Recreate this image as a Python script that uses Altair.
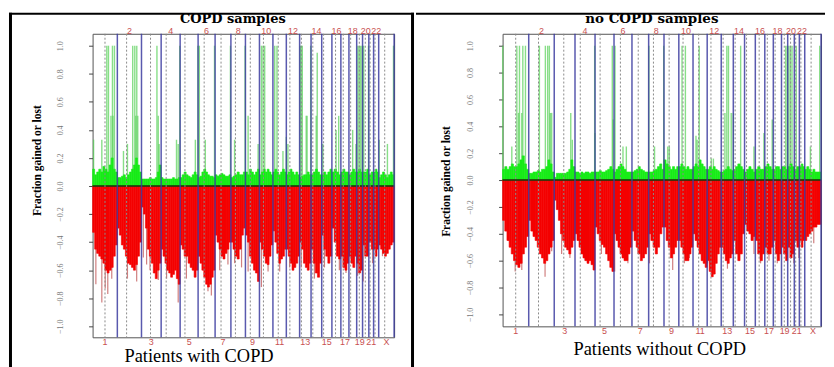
import altair as alt
import pandas as pd

# ---------------- genome layout (Mb) ----------------
CHROMS = ["1", "2", "3", "4", "5", "6", "7", "8", "9", "10", "11", "12",
          "13", "14", "15", "16", "17", "18", "19", "20", "21", "22", "X"]
CHR_LEN = [249.25, 243.20, 198.02, 191.15, 180.92, 171.12, 159.14, 146.36,
           141.21, 135.53, 135.01, 133.85, 115.17, 107.35, 102.53, 90.35,
           81.20, 78.08, 59.13, 63.03, 48.13, 51.30, 155.27]
CENTRO = [125.0, 93.3, 91.0, 50.4, 48.4, 61.0, 59.9, 45.6, 49.0, 40.2, 53.7,
          35.8, 17.9, 17.6, 19.0, 36.6, 24.0, 17.2, 26.5, 27.5, 13.2, 14.7, 60.6]
Y_TICKS = [1.0, 0.8, 0.6, 0.4, 0.2, 0.0, -0.2, -0.4, -0.6, -0.8, -1.0]

# ---------------- COPD samples ----------------
COPD_LOSS = [
    [-0.33, -0.45, -0.48, -0.5, -0.52, -0.55, -0.6, -0.62, -0.6, -0.58, -0.5, -0.42],
    [-0.3, -0.35, -0.42, -0.45, -0.5, -0.55, -0.56, -0.58, -0.6, -0.56, -0.5, -0.4],
    [-0.15, -0.2, -0.3, -0.45, -0.5, -0.55, -0.62, -0.66, -0.6, -0.55],
    [-0.45, -0.5, -0.55, -0.6, -0.62, -0.65, -0.63, -0.6, -0.66, -0.7],
    [-0.42, -0.45, -0.5, -0.5, -0.55, -0.58, -0.6, -0.65, -0.6],
    [-0.5, -0.55, -0.6, -0.65, -0.7, -0.72, -0.7, -0.65, -0.6],
    [-0.35, -0.4, -0.45, -0.5, -0.52, -0.48, -0.45, -0.4],
    [-0.4, -0.45, -0.5, -0.52, -0.45, -0.35, -0.3],
    [-0.35, -0.4, -0.5, -0.55, -0.6, -0.62, -0.68],
    [-0.4, -0.45, -0.5, -0.55, -0.56, -0.5, -0.42],
    [-0.32, -0.4, -0.48, -0.55, -0.52, -0.5, -0.45],
    [-0.45, -0.5, -0.55, -0.6, -0.58, -0.55, -0.5],
    [-0.4, -0.45, -0.55, -0.58, -0.6, -0.55],
    [-0.45, -0.55, -0.62, -0.65, -0.55],
    [-0.35, -0.45, -0.5, -0.55, -0.5],
    [-0.3, -0.4, -0.5, -0.52],
    [-0.5, -0.58, -0.6, -0.55],
    [-0.5, -0.55, -0.58, -0.5],
    [-0.55, -0.62, -0.6],
    [-0.42, -0.5, -0.5],
    [-0.4, -0.45],
    [-0.45, -0.5, -0.45],
    [-0.42, -0.45, -0.48, -0.5, -0.48, -0.45, -0.42, -0.4],
]
COPD_GAIN = [
    [0.12, 0.08, 0.1, 0.12, 0.1, 0.14, 0.12, 0.1, 0.15, 0.2, 0.12, 0.1],
    [0.06, 0.06, 0.07, 0.08, 0.06, 0.08, 0.1, 0.12, 0.15, 0.2, 0.15, 0.1],
    [0.05, 0.05, 0.05, 0.05, 0.06, 0.05, 0.05, 0.06, 0.1, 0.15],
    [0.06, 0.05, 0.05, 0.05, 0.05, 0.05, 0.06, 0.05, 0.05, 0.06],
    [0.06, 0.08, 0.1, 0.08, 0.07, 0.06, 0.08, 0.1, 0.08],
    [0.06, 0.07, 0.1, 0.12, 0.1, 0.08, 0.07, 0.07, 0.06],
    [0.08, 0.07, 0.08, 0.09, 0.08, 0.07, 0.07, 0.08],
    [0.06, 0.07, 0.08, 0.1, 0.08, 0.08, 0.1],
    [0.1, 0.08, 0.12, 0.1, 0.08, 0.1, 0.12],
    [0.08, 0.1, 0.12, 0.1, 0.12, 0.1, 0.08],
    [0.1, 0.12, 0.1, 0.08, 0.1, 0.12, 0.1],
    [0.08, 0.1, 0.12, 0.1, 0.08, 0.1, 0.08],
    [0.06, 0.07, 0.08, 0.08, 0.1, 0.08],
    [0.08, 0.1, 0.12, 0.1, 0.08],
    [0.08, 0.1, 0.08, 0.1, 0.12],
    [0.1, 0.12, 0.1, 0.08],
    [0.1, 0.12, 0.1, 0.1],
    [0.08, 0.1, 0.12, 0.1],
    [0.1, 0.12, 0.1],
    [0.1, 0.1, 0.12],
    [0.08, 0.1],
    [0.1, 0.12, 0.1],
    [0.06, 0.08, 0.1, 0.08, 0.06, 0.08, 0.1, 0.08],
]
COPD_GAIN_SPIKE_POS = [143, 160, 200, 220, 404, 425, 445, 648, 878, 1060, 1075, 1228,
                       1388, 1536, 1700, 1716, 1733, 1834, 1857, 2090, 2100, 2112,
                       2196, 2262, 2672, 2685, 2700, 2715, 2730, 2778, 3030,
                       10, 93, 185, 205, 311, 351, 435, 455, 661, 670, 845, 862,
                       1035, 1135, 1430, 1566, 1667, 1917, 1951, 1967, 2151, 2160,
                       2252, 2318, 2452, 2478, 2619, 2652, 2886, 2969]
COPD_GAIN_SPIKE_H = [1.0, 1.0, 1.0, 1.0, 1.0, 1.0, 1.0, 1.0, 1.0, 1.0, 1.0, 1.0,
                     1.0, 1.0, 1.0, 1.0, 1.0, 1.0, 1.0, 1.0, 1.0, 1.0,
                     1.0, 0.95, 1.0, 1.0, 1.0, 1.0, 1.0, 1.0, 1.0,
                     0.33, 0.33, 0.5, 0.5, 0.25, 0.3, 0.5, 0.5, 0.5, 0.3, 0.33, 0.3,
                     0.33, 0.33, 0.33, 0.5, 0.3, 0.25, 0.35, 0.3, 0.5, 0.5,
                     0.5, 0.3, 0.4, 0.5, 0.4, 0.3, 0.33, 0.3]
COPD_LOSS_SPIKE_POS = [33, 93, 127, 153, 193, 351, 444, 511, 544, 578, 661, 745, 862,
                       945, 1022, 1162, 1196, 1280, 1363, 1430, 1500, 1566, 1633,
                       1700, 1767, 1884, 1984, 2101, 2234, 2335, 2485, 2552, 2669,
                       2725, 2819, 2919]
COPD_LOSS_SPIKE_H = [-0.7, -0.83, -0.73, -0.77, -0.66, -0.66, -0.68, -0.51, -0.56, -0.6,
                     -0.67, -0.66, -0.83, -0.66, -0.6, -0.75, -0.78, -0.6, -0.56, -0.55,
                     -0.58, -0.61, -0.55, -0.72, -0.61, -0.61, -0.58, -0.58, -0.66,
                     -0.58, -0.6, -0.62, -0.64, -0.68, -0.55, -0.5]

# ---------------- no COPD samples ----------------
NOCOPD_LOSS = [
    [-0.3, -0.38, -0.45, -0.5, -0.55, -0.6, -0.63, -0.65, -0.62, -0.55, -0.5, -0.42],
    [-0.3, -0.38, -0.42, -0.45, -0.5, -0.55, -0.58, -0.62, -0.6, -0.55, -0.5, -0.45],
    [-0.15, -0.22, -0.3, -0.4, -0.45, -0.5, -0.52, -0.55, -0.5, -0.45],
    [-0.4, -0.45, -0.5, -0.55, -0.58, -0.6, -0.62, -0.6, -0.63, -0.67],
    [-0.35, -0.4, -0.45, -0.48, -0.5, -0.55, -0.6, -0.65, -0.68],
    [-0.4, -0.45, -0.5, -0.55, -0.58, -0.6, -0.6, -0.55, -0.5],
    [-0.38, -0.45, -0.5, -0.55, -0.6, -0.58, -0.55, -0.5],
    [-0.4, -0.45, -0.5, -0.55, -0.5, -0.4, -0.35],
    [-0.35, -0.45, -0.5, -0.58, -0.55, -0.5, -0.45],
    [-0.45, -0.5, -0.55, -0.6, -0.6, -0.55, -0.5],
    [-0.4, -0.45, -0.5, -0.55, -0.6, -0.62, -0.65],
    [-0.6, -0.68, -0.72, -0.7, -0.62, -0.55, -0.5],
    [-0.5, -0.55, -0.6, -0.62, -0.58, -0.55],
    [-0.45, -0.55, -0.6, -0.55, -0.4],
    [-0.33, -0.38, -0.4, -0.45, -0.42],
    [-0.45, -0.55, -0.6, -0.55],
    [-0.5, -0.55, -0.55, -0.5],
    [-0.45, -0.55, -0.6, -0.55],
    [-0.5, -0.55, -0.6],
    [-0.5, -0.58, -0.55],
    [-0.45, -0.5],
    [-0.45, -0.5, -0.45],
    [-0.45, -0.42, -0.4, -0.38, -0.35, -0.35, -0.33, -0.33],
]
NOCOPD_GAIN = [
    [0.08, 0.1, 0.08, 0.1, 0.12, 0.1, 0.1, 0.12, 0.15, 0.18, 0.12, 0.08],
    [0.05, 0.05, 0.06, 0.06, 0.07, 0.06, 0.08, 0.08, 0.1, 0.15, 0.12, 0.06],
    [0.02, 0.05, 0.05, 0.05, 0.05, 0.05, 0.06, 0.08, 0.15, 0.1],
    [0.06, 0.06, 0.05, 0.06, 0.05, 0.06, 0.06, 0.05, 0.06, 0.06],
    [0.06, 0.06, 0.07, 0.06, 0.06, 0.07, 0.08, 0.1, 0.08],
    [0.06, 0.08, 0.1, 0.12, 0.1, 0.08, 0.06, 0.06, 0.06],
    [0.06, 0.07, 0.08, 0.1, 0.08, 0.07, 0.06, 0.06],
    [0.06, 0.06, 0.07, 0.08, 0.1, 0.12, 0.08],
    [0.15, 0.12, 0.1, 0.08, 0.1, 0.08, 0.1],
    [0.1, 0.12, 0.1, 0.08, 0.1, 0.08, 0.08],
    [0.1, 0.12, 0.1, 0.15, 0.12, 0.1, 0.08],
    [0.08, 0.1, 0.08, 0.1, 0.08, 0.07, 0.06],
    [0.06, 0.07, 0.08, 0.1, 0.08, 0.07],
    [0.08, 0.1, 0.12, 0.1, 0.08],
    [0.06, 0.08, 0.1, 0.08, 0.06],
    [0.08, 0.1, 0.08, 0.08],
    [0.1, 0.12, 0.1, 0.08],
    [0.08, 0.1, 0.1, 0.08],
    [0.1, 0.1, 0.08],
    [0.1, 0.12, 0.1],
    [0.08, 0.1],
    [0.1, 0.12, 0.1],
    [0.08, 0.1, 0.08, 0.06, 0.08, 0.06, 0.06, 0.06],
]
NOCOPD_GAIN_SPIKE_POS = [2, 136, 161, 193, 218, 351, 408, 430, 446, 878, 1046, 1072,
                         1395, 1536, 1711, 1743, 1875, 2138, 2154, 2270, 2700, 2715,
                         2730, 2745, 2760, 2800, 3024,
                         88, 152, 183, 455, 468, 650, 665, 880, 1053, 1148, 1180, 1449,
                         1575, 1590, 1844, 1855, 1990, 2010, 2120, 2180, 2200, 2397,
                         2492, 2571, 2935]
NOCOPD_GAIN_SPIKE_H = [1.0, 1.0, 1.0, 1.0, 1.0, 1.0, 1.0, 1.0, 1.0, 1.0, 1.0, 1.0,
                       1.0, 1.0, 1.0, 1.0, 1.0, 1.0, 1.0, 1.0, 1.0, 1.0,
                       1.0, 1.0, 1.0, 1.0, 1.0,
                       0.25, 0.5, 0.5, 0.5, 0.5, 0.5, 0.3, 0.35, 0.45, 0.25, 0.25, 0.25,
                       0.25, 0.25, 0.33, 0.3, 0.16, 0.16, 0.5, 0.5, 0.5, 0.25,
                       0.35, 0.45, 0.25]
NOCOPD_LOSS_SPIKE_POS = [57, 120, 183, 310, 405, 468, 563, 642, 785, 863, 942, 1069,
                         1195, 1290, 1401, 1622, 1733, 1781, 1954, 2002, 2144, 2255,
                         2397, 2460, 2540, 2619, 2777, 2825, 2967]
NOCOPD_LOSS_SPIKE_H = [-0.45, -0.68, -0.67, -0.4, -0.72, -0.53, -0.55, -0.58, -0.6,
                       -0.6, -0.55, -0.68, -0.62, -0.55, -0.62, -0.67, -0.62, -0.58,
                       -0.62, -0.72, -0.66, -0.6, -0.55, -0.62, -0.6, -0.62, -0.62,
                       -0.58, -0.47]

# ---------------- derived tables ----------------
STARTS = []
_acc = 0.0
for _L in CHR_LEN:
    STARTS.append(_acc)
    _acc += _L
TOTAL = _acc

ENDS = pd.DataFrame({"pos": [s + L for s, L in zip(STARTS, CHR_LEN)]})
CENS = pd.DataFrame({"pos": [s + c for s, c in zip(STARTS, CENTRO)]})
MIDS = [s + L / 2 for s, L in zip(STARTS, CHR_LEN)]
TOP_LAB = pd.DataFrame({"mid": [MIDS[i] for i in range(1, 22, 2)],
                        "lab": [CHROMS[i] for i in range(1, 22, 2)]})
BOT_IDX = list(range(0, 21, 2)) + [22]
BOT_LAB = pd.DataFrame({"mid": [MIDS[i] for i in BOT_IDX],
                        "lab": [CHROMS[i] for i in BOT_IDX]})
ONE = pd.DataFrame({"base": [0.0]})


def bins_frame(loss, gain):
    rows = []
    for ci, (lv, gv) in enumerate(zip(loss, gain)):
        n = len(lv)
        s = STARTS[ci]
        L = CHR_LEN[ci]
        for i in range(n):
            rows.append({"x0": s + L * i / n, "x1": s + L * (i + 1) / n,
                         "loss": lv[i], "gain": gv[i], "base": 0.0})
    return pd.DataFrame(rows)


def panel(loss, gain, gpos, gh, lpos, lh, title, xtitle, W, H, ydom, g):
    xs = alt.Scale(domain=[0, TOTAL], nice=False, zero=False)
    ys = alt.Scale(domain=ydom, nice=False, zero=False)
    yaxis = alt.Axis(values=Y_TICKS, format=".1f", title="Fraction gained or lost",
                     labelAngle=270, labelAlign="center", labelBaseline="bottom",
                     labelFont="Liberation Sans Narrow", labelFontSize=8,
                     labelColor="#777777", labelPadding=24, tickSize=4,
                     tickColor="#444444", domain=False, grid=False,
                     titleFont="Liberation Serif", titleFontWeight="bold",
                     titleFontSize=11.5, titleColor="black", titleAngle=270,
                     titleAlign="center", titleBaseline="middle",
                     titleX=g["ytx"], titleY=g["yty"])

    def X(f):
        return alt.X(f, type="quantitative", scale=xs, axis=None)

    def Y(f):
        return alt.Y(f, type="quantitative", scale=ys, axis=yaxis)

    bins = bins_frame(loss, gain)
    gsp = pd.DataFrame({"pos": gpos, "h": gh, "base": 0.0})
    lsp = pd.DataFrame({"pos": lpos, "h": lh, "base": 0.0})

    layers = [
        alt.Chart(gsp).mark_rule(color="#55d055", strokeWidth=1.4, opacity=0.7)
        .encode(x=X("pos"), y=Y("base"), y2="h"),
        alt.Chart(lsp).mark_rule(color="#c86868", strokeWidth=1.2, opacity=0.85)
        .encode(x=X("pos"), y=Y("base"), y2="h"),
        alt.Chart(bins).mark_rect(color="#18ec18", stroke="#18ec18", strokeWidth=0.6)
        .encode(x=X("x0"), x2="x1", y=Y("base"), y2="gain"),
        alt.Chart(bins).mark_rect(color="#f40000", stroke="#f40000", strokeWidth=0.6)
        .encode(x=X("x0"), x2="x1", y=Y("base"), y2="loss"),
        alt.Chart(ONE).mark_rule(color="#0d3d0d", strokeWidth=1.4)
        .encode(y=Y("base")),
        alt.Chart(CENS).mark_rule(color="#8a8a8a", strokeWidth=1, strokeDash=[2, 2])
        .encode(x=X("pos")),
        alt.Chart(ENDS).mark_rule(color="#3c3ca0", strokeWidth=1.5, opacity=0.85)
        .encode(x=X("pos")),
        alt.Chart(TOP_LAB).mark_text(font="Liberation Sans", fontSize=9, color="#c85050",
                                     baseline="middle", align="center")
        .encode(x=X("mid"), y=alt.value(-3), text="lab:N"),
        alt.Chart(BOT_LAB).mark_text(font="Liberation Sans", fontSize=9, color="#c85050",
                                     baseline="middle", align="center")
        .encode(x=X("mid"), y=alt.value(g["boty"]), text="lab:N"),
        alt.Chart(ONE).mark_text(font="DejaVu Serif", fontWeight="bold",
                                 fontSize=g["tsize"], color="black",
                                 baseline="alphabetic", align="center")
        .encode(x=alt.value(g["tx"]), y=alt.value(g["ty"]), text=alt.value(title)),
        alt.Chart(ONE).mark_text(font="Liberation Serif", fontSize=18.5, color="black",
                                 baseline="alphabetic", align="center")
        .encode(x=alt.value(g["xtx"]), y=alt.value(g["xty"]), text=alt.value(xtitle)),
    ]
    for (a, b, c, d) in g["frame"]:
        layers.append(
            alt.Chart(ONE).mark_rect(color="black")
            .encode(x=alt.value(a), x2=alt.value(b), y=alt.value(c), y2=alt.value(d))
        )
    return alt.layer(*layers).properties(width=W, height=H)


left = panel(COPD_LOSS, COPD_GAIN, COPD_GAIN_SPIKE_POS, COPD_GAIN_SPIKE_H,
             COPD_LOSS_SPIKE_POS, COPD_LOSS_SPIKE_H,
             "COPD samples", "Patients with COPD", 303, 305, [-1.078, 1.085],
             {"ytx": -55, "yty": 127, "boty": 310, "tx": 141, "ty": -10.5, "tsize": 13,
              "xtx": 107, "xty": 329.5,
              "frame": [(-84, -81, -21, 340), (-84, 323, -21, -19), (320, 323, -21, 340)]})
right = panel(NOCOPD_LOSS, NOCOPD_GAIN, NOCOPD_GAIN_SPIKE_POS, NOCOPD_GAIN_SPIKE_H,
              NOCOPD_LOSS_SPIKE_POS, NOCOPD_LOSS_SPIKE_H,
              "no COPD samples", "Patients without COPD", 320, 294, [-1.089, 1.089],
              {"ytx": -56, "yty": 148, "boty": 299, "tx": 150, "ty": -10.5, "tsize": 13.5,
               "xtx": 158, "xty": 323,
               "frame": [(-87, 324, -21, -19)]})

chart = (
    alt.hconcat(left, right, spacing=0)
    .properties(padding={"left": 0, "top": 3, "right": 0, "bottom": 0})
    .configure_view(stroke="#555555", strokeWidth=1)
)

chart.save("out.html", embed_options={"renderer": "svg", "actions": False})
